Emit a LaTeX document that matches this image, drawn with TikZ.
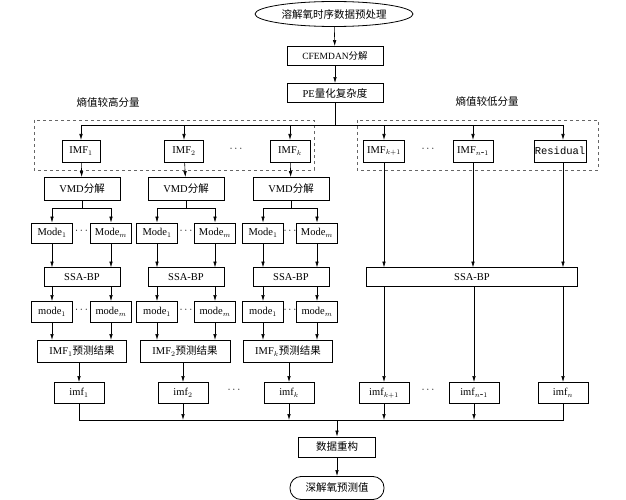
\documentclass[tikz,border=0pt]{standalone}
\usepackage{fontspec}
\setmainfont{Liberation Serif}
\newfontfamily\cjk{Noto Sans CJK SC}
\newfontfamily\mono{Liberation Mono}
\usetikzlibrary{arrows.meta,shapes.geometric}
\begin{document}
\begin{tikzpicture}[x=1pt,y=-1pt,font=\fontsize{10.5}{12}\selectfont,
  bx/.style={draw,line width=0.8pt,inner sep=0pt,minimum height=20pt},
  ar/.style={-{Latex[length=6pt,width=3.5pt]},line width=0.6pt},
  ln/.style={line width=0.6pt},
  dbox/.style={draw,dashed,line width=0.7pt,gray!80!black}]
\useasboundingbox (0,0) rectangle (626,500);
% top
\node[draw,ellipse,line width=0.8pt,minimum width=158pt,minimum height=25pt,inner sep=0pt] (top) at (334,14) {\cjk 溶解氧时序数据预处理};
\node[bx,minimum width=96pt,minimum height=19pt] (cf) at (335,56) {\fontsize{9.5}{11}\selectfont CFEMDAN{\cjk 分解}};
\node[bx,minimum width=96pt,minimum height=19pt] (pe) at (335,93) {PE{\cjk 量化复杂度}};
\draw[ar] (top) -- (cf);
\draw[ar] (cf) -- (pe);
\node (lh) at (108,102) {\cjk 熵值较高分量};
\node (ll) at (487,101) {\cjk 熵值较低分量};
\draw[dbox] (34,120) rectangle (314,170);
\draw[dbox] (357,120) rectangle (598,170);
% IMF row
\node[bx,minimum width=38pt,minimum height=22pt] (I1) at (81,151) {IMF$_1$};
\node[bx,minimum width=39pt,minimum height=22pt] (I2) at (184,151) {IMF$_2$};
\node[bx,minimum width=40pt,minimum height=22pt] (Ik) at (290,151) {IMF$_k$};
\node[bx,minimum width=41pt,minimum height=22pt] (Ik1) at (384,151) {IMF$_{k+1}$};
\node[bx,minimum width=40pt,minimum height=22pt] (In1) at (473,151) {IMF$_{n\mbox{-}1}$};
\node[bx,minimum width=52pt,minimum height=22pt] (Ir) at (560,151) {\mono Residual};
\node (d1) at (236,149) {$\cdots$};
\node (d2) at (428,149) {$\cdots$};
\coordinate (bus) at (335,125);
\draw[ln] (pe) -- (bus);
\draw[ln] (81,125) -- (563,125);
\foreach \x in {81,184,290,384,473,563}
  \draw[ar] (\x,125) -- (\x,140);
% left columns
\foreach \i/\c/\ma/\mb in {1/82/52/111,2/186/157/215,3/291/263/317}{
  \node[bx,minimum width=76pt,minimum height=23pt] (V\i) at (\c,189) {VMD{\cjk 分解}};
  \node[bx,minimum width=41pt,minimum height=20pt] (Ma\i) at (\ma,233) {Mode$_1$};
  \node[bx,minimum width=41pt,minimum height=20pt] (Mb\i) at (\mb,233) {Mode$_m$};
  \node at ({(\ma+\mb)/2},231) {$\cdots$};
  \draw[ln] (V\i.south) -- (\c,208);
  \draw[ln] (\ma,208) -- (\mb,208);
  \draw[ar] (\ma,208) -- (Ma\i.north);
  \draw[ar] (\mb,208) -- (Mb\i.north);
  \node[bx,minimum width=76pt,minimum height=19pt] (S\i) at (\c,277) {SSA-BP};
  \draw[ar] (Ma\i) -- (\ma,267.5);
  \draw[ar] (Mb\i) -- (\mb,267.5);
  \node[bx,minimum width=41pt,minimum height=21pt] (ma\i) at (\ma,312) {mode$_1$};
  \node[bx,minimum width=41pt,minimum height=21pt] (mb\i) at (\mb,312) {mode$_m$};
  \node at ({(\ma+\mb)/2},310) {$\cdots$};
  \draw[ar] (\ma,286.5) -- (ma\i);
  \draw[ar] (\mb,286.5) -- (mb\i);
}
\draw[ar] (I1) -- (V1);
\draw[ar] (I2) -- (V2);
\draw[ar] (Ik) -- (V3);
\node[bx,minimum width=89pt,minimum height=22pt] (R1) at (82,351) {IMF$_1${\cjk 预测结果}};
\node[bx,minimum width=90pt,minimum height=22pt] (R2) at (185,351) {IMF$_2${\cjk 预测结果}};
\node[bx,minimum width=89pt,minimum height=22pt] (R3) at (288,351) {IMF$_k${\cjk 预测结果}};
\foreach \x in {52,157,263,111,215,317}{\draw[ar] (\x,322.5) -- (\x,340);}
% right SSA
\node[bx,minimum width=211pt,minimum height=19pt] (S4) at (472,277) {SSA-BP};
\draw[ar] (Ik1) -- (384,267.5);
\draw[ar] (In1) -- (473,267.5);
\draw[ar] (563,162) -- (563,267.5);
% imf row
\node[bx,minimum width=50pt,minimum height=21pt] (i1) at (79,393) {imf$_1$};
\node[bx,minimum width=50pt,minimum height=21pt] (i2) at (183,393) {imf$_2$};
\node[bx,minimum width=50pt,minimum height=21pt] (ik) at (289,393) {imf$_k$};
\node[bx,minimum width=50pt,minimum height=21pt] (ik1) at (384,393) {imf$_{k+1}$};
\node[bx,minimum width=50pt,minimum height=21pt] (in1) at (474,393) {imf$_{n\mbox{-}1}$};
\node[bx,minimum width=50pt,minimum height=21pt] (in) at (563,393) {imf$_n$};
\node at (234,390) {$\cdots$};
\node at (428,390) {$\cdots$};
\draw[ar] (79,362) -- (i1);
\draw[ar] (183,362) -- (i2);
\draw[ar] (289,362) -- (ik);
\draw[ar] (384,286.5) -- (ik1);
\draw[ar] (474,286.5) -- (in1);
\draw[ar] (563,286.5) -- (in);
% bus
\draw[ln] (i1.south) -- (79,420) -- (563,420) -- (in.south);
\foreach \n/\x in {i2/183,ik/289,ik1/384,in1/474}
  \draw[ar] (\n.south) -- (\x,420);
\node[bx,minimum width=77pt,minimum height=20pt] (rec) at (337,447) {\cjk 数据重构};
\draw[ar] (337,420) -- (rec);
\node[draw,rounded corners=11pt,line width=0.8pt,minimum width=94pt,minimum height=23pt,inner sep=0pt] (out) at (337,488) {\cjk 深解氧预测值};
\draw[ar] (rec) -- (out);
\end{tikzpicture}
\end{document}
